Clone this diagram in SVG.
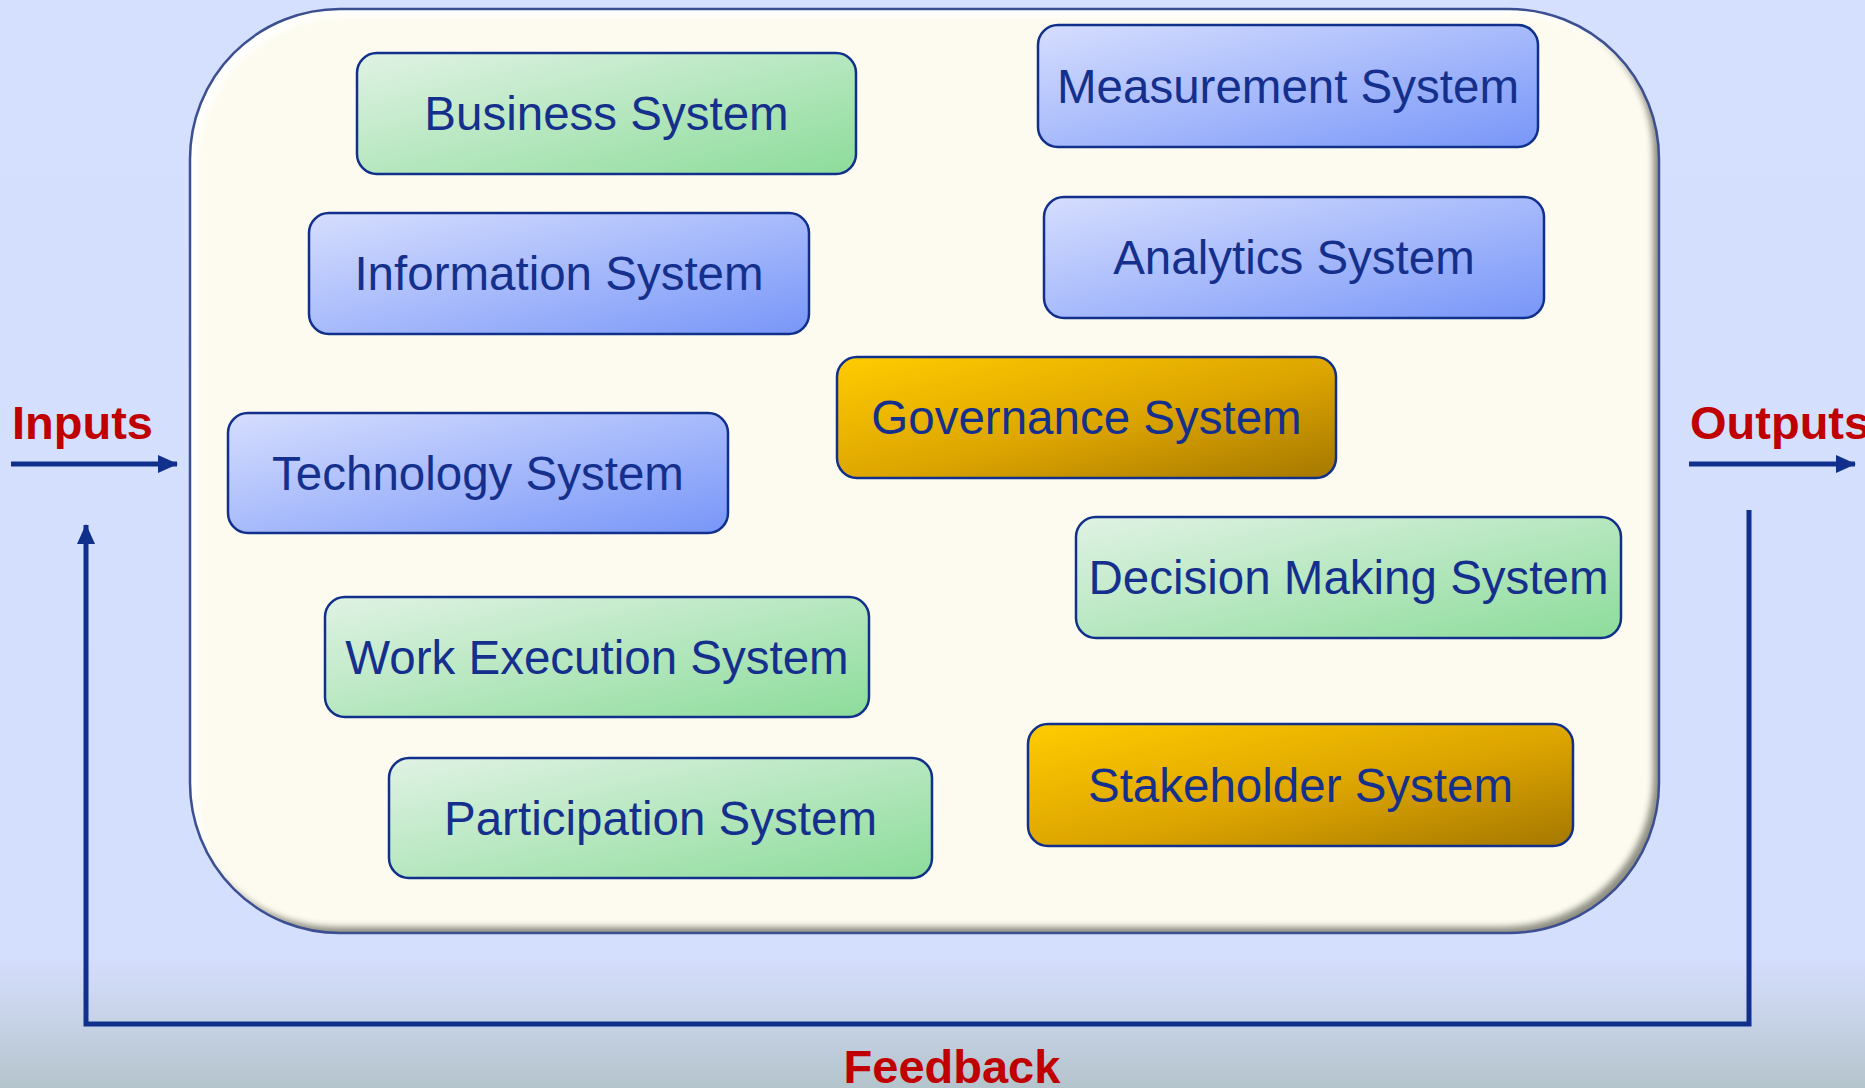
<svg xmlns="http://www.w3.org/2000/svg" width="1865" height="1088" viewBox="0 0 1865 1088">
  <defs>
    <linearGradient id="bg" x1="0" y1="0" x2="0" y2="1">
      <stop offset="0" stop-color="#d5dffe"/>
      <stop offset="0.88" stop-color="#d4defd"/>
      <stop offset="0.93" stop-color="#c9d4ea"/>
      <stop offset="1" stop-color="#b4c4cc"/>
    </linearGradient>
    <linearGradient id="gGreen" x1="0" y1="0" x2="1" y2="1">
      <stop offset="0" stop-color="#e0f2e4"/>
      <stop offset="1" stop-color="#8cdc9a"/>
    </linearGradient>
    <linearGradient id="gBlue" x1="0" y1="0" x2="1" y2="1">
      <stop offset="0" stop-color="#d6defe"/>
      <stop offset="1" stop-color="#7896f8"/>
    </linearGradient>
    <linearGradient id="gGold" x1="0" y1="0" x2="1" y2="1">
      <stop offset="0" stop-color="#ffcc00"/>
      <stop offset="0.55" stop-color="#dca400"/>
      <stop offset="1" stop-color="#a57800"/>
    </linearGradient>
    <clipPath id="cClip">
      <rect x="190" y="9" width="1469" height="924" rx="150" ry="150"/>
    </clipPath>
    <filter id="blur4" x="-10%" y="-10%" width="120%" height="120%">
      <feGaussianBlur stdDeviation="3"/>
    </filter>
    <marker id="arr" viewBox="0 0 20 20" refX="19" refY="10" markerWidth="20" markerHeight="20" markerUnits="userSpaceOnUse" orient="auto">
      <path d="M0,1 L20,10 L0,19 Z" fill="#10308c"/>
    </marker>
    <style>
      .box { stroke: #10308c; stroke-width: 2.5; }
      .green { fill: url(#gGreen); }
      .blue { fill: url(#gBlue); }
      .gold { fill: url(#gGold); }
      .lbl { font-family: "Liberation Sans", Arial, sans-serif; font-size: 47.5px; fill: #15308c; text-anchor: middle; }
      .red { font-family: "Liberation Sans", Arial, sans-serif; font-size: 47px; font-weight: bold; fill: #c00000; }
      .conn { stroke: #10308c; stroke-width: 5; fill: none; }
    </style>
  </defs>

  <rect x="0" y="0" width="1865" height="1088" fill="url(#bg)"/>

  <g id="container">
    <rect x="190" y="9" width="1469" height="924" rx="150" ry="150" fill="#fdfbef"/>
    <g clip-path="url(#cClip)">
      <path fill-rule="evenodd" fill="#7a7a70" opacity="0.85" filter="url(#blur4)"
            d="M150,-30 H1700 V970 H150 Z M184,3 H1503 A150,150 0 0 1 1653,153 V777 A150,150 0 0 1 1503,927 H334 A150,150 0 0 1 184,777 V153 A150,150 0 0 1 334,3 Z"/>
      <path fill-rule="evenodd" fill="#ffffff" filter="url(#blur4)"
            d="M150,-30 H1700 V970 H150 Z M197,16 H1516 A150,150 0 0 1 1666,166 V790 A150,150 0 0 1 1516,940 H347 A150,150 0 0 1 197,790 V166 A150,150 0 0 1 347,16 Z"/>
    </g>
    <rect x="190" y="9" width="1469" height="924" rx="150" ry="150" fill="none" stroke="#3c4f90" stroke-width="2.5"/>
  </g>

  <g id="node-business">
    <rect class="box green" x="357" y="53" width="499" height="121" rx="20"/>
    <text class="lbl" x="606.5" y="130">Business System</text>
  </g>
  <g id="node-measurement">
    <rect class="box blue" x="1038" y="25" width="500" height="122" rx="20"/>
    <text class="lbl" x="1288" y="103">Measurement System</text>
  </g>
  <g id="node-information">
    <rect class="box blue" x="309" y="213" width="500" height="121" rx="20"/>
    <text class="lbl" x="559" y="290">Information System</text>
  </g>
  <g id="node-analytics">
    <rect class="box blue" x="1044" y="197" width="500" height="121" rx="20"/>
    <text class="lbl" x="1294" y="274">Analytics System</text>
  </g>
  <g id="node-governance">
    <rect class="box gold" x="837" y="357" width="499" height="121" rx="20"/>
    <text class="lbl" x="1086.5" y="434">Governance System</text>
  </g>
  <g id="node-technology">
    <rect class="box blue" x="228" y="413" width="500" height="120" rx="20"/>
    <text class="lbl" x="478" y="490">Technology System</text>
  </g>
  <g id="node-decision">
    <rect class="box green" x="1076" y="517" width="545" height="121" rx="20"/>
    <text class="lbl" x="1348.5" y="594">Decision Making System</text>
  </g>
  <g id="node-workexec">
    <rect class="box green" x="325" y="597" width="544" height="120" rx="20"/>
    <text class="lbl" x="597" y="674">Work Execution System</text>
  </g>
  <g id="node-participation">
    <rect class="box green" x="389" y="758" width="543" height="120" rx="20"/>
    <text class="lbl" x="660.5" y="835">Participation System</text>
  </g>
  <g id="node-stakeholder">
    <rect class="box gold" x="1028" y="724" width="545" height="122" rx="20"/>
    <text class="lbl" x="1300.5" y="802">Stakeholder System</text>
  </g>

  <g id="connectors">
    <line class="conn" x1="11" y1="464" x2="177" y2="464" marker-end="url(#arr)"/>
    <line class="conn" x1="1689" y1="464" x2="1855" y2="464" marker-end="url(#arr)"/>
    <path class="conn" d="M1749,510 V1024 H86 V525" stroke-linejoin="miter" marker-end="url(#arr)"/>
  </g>

  <g id="labels">
    <text class="red" x="12" y="439">Inputs</text>
    <text class="red" x="1690" y="439">Outputs</text>
    <text class="red" x="952" y="1083" text-anchor="middle">Feedback</text>
  </g>
</svg>
